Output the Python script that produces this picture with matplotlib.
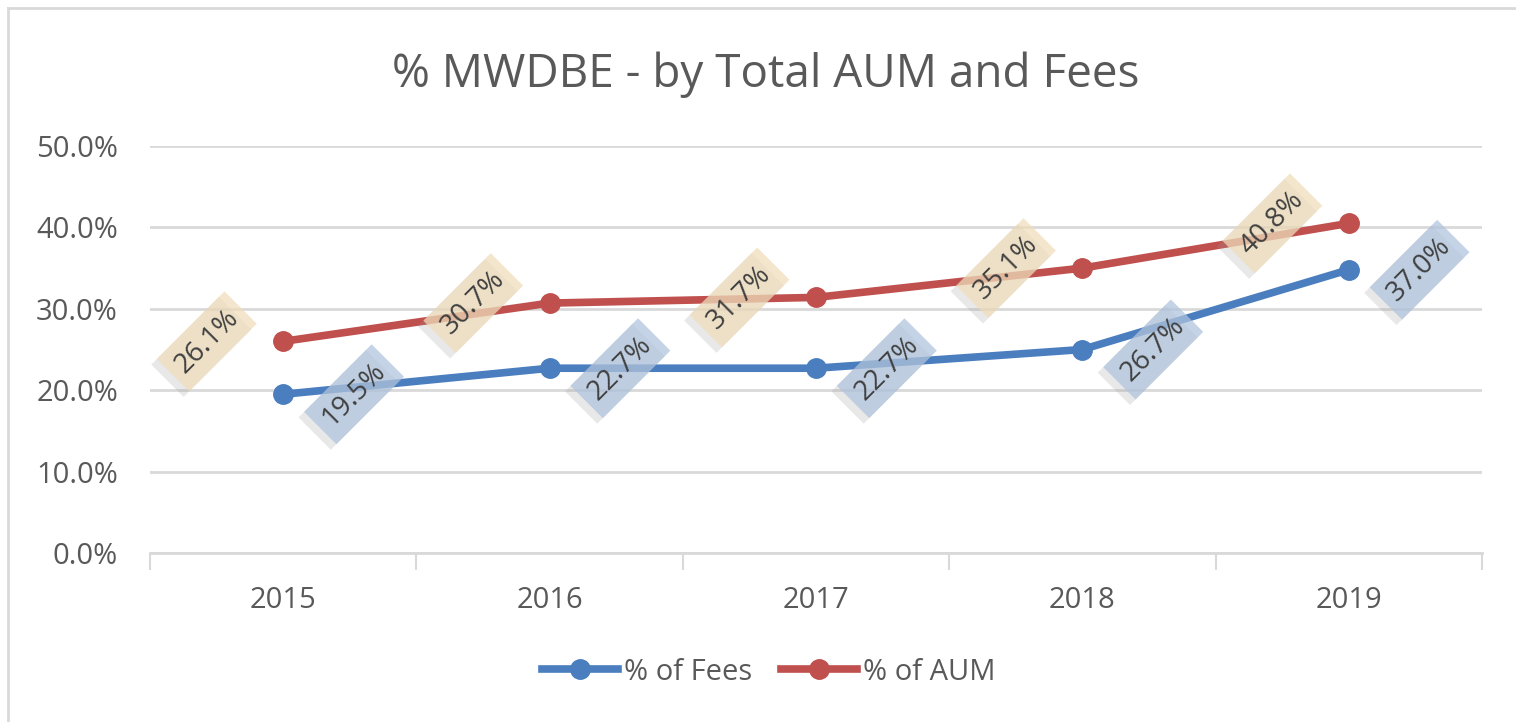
import matplotlib
matplotlib.use("Agg")
import matplotlib.pyplot as plt
from matplotlib.lines import Line2D
import matplotlib.patheffects as pe

years = ["2015", "2016", "2017", "2018", "2019"]
fees = [19.5, 22.7, 22.7, 25.0, 34.8]
aum = [26.0, 30.7, 31.4, 35.0, 40.5]
fees_labels = ["19.5%", "22.7%", "22.7%", "26.7%", "37.0%"]
aum_labels = ["26.1%", "30.7%", "31.7%", "35.1%", "40.8%"]
yticks = [0, 10, 20, 30, 40, 50]
ytick_labels = ["0.0%", "10.0%", "20.0%", "30.0%", "40.0%", "50.0%"]

BLUE = "#4A7EBF"
RED = "#C0504D"
TXT = "#595959"
GRID = "#D9D9D9"
FONT = "Open Sans"

plt.rcParams["font.family"] = [FONT, "DejaVu Sans"]

fig = plt.figure(figsize=(15.16, 7.22), dpi=100)
ax = fig.add_axes([150 / 1516, 1 - 553 / 722, (1482 - 150) / 1516, (553 - 146) / 722])

x = list(range(len(years)))
ax.plot(x, fees, color=BLUE, lw=5.5, marker="o", ms=14, solid_capstyle="round", zorder=3)
ax.plot(x, aum, color=RED, lw=5.5, marker="o", ms=14, solid_capstyle="round", zorder=3)

ax.set_xlim(-0.5, len(years) - 0.5)
ax.set_ylim(0, 50)
ax.set_yticks(yticks)
ax.set_yticklabels(ytick_labels)
ax.set_xticks(x)
ax.set_xticklabels(years)
ax.set_xticks([i - 0.5 for i in range(len(years) + 1)], minor=True)
ax.tick_params(axis="x", which="major", length=0, pad=24, labelsize=21, labelcolor=TXT)
ax.tick_params(axis="x", which="minor", length=12, width=1.5, color=GRID)
ax.tick_params(axis="y", length=0, pad=23, labelsize=21, labelcolor=TXT)
ax.grid(axis="y", color=GRID, lw=2)
ax.set_axisbelow(True)
for s in ["top", "right", "left"]:
    ax.spines[s].set_visible(False)
ax.spines["bottom"].set_color(GRID)
ax.spines["bottom"].set_linewidth(2)

shadow = [pe.SimplePatchShadow(offset=(-4, -4), shadow_rgbFace="#9A9A9A", alpha=0.22), pe.Normal()]

def put_labels(vals, labels, dx, face):
    for i, (v, t) in enumerate(zip(vals, labels)):
        txt = ax.annotate(t, (i, v), xytext=(dx, 0), textcoords="offset points",
                          ha="center", va="center", rotation=45, rotation_mode="anchor",
                          fontsize=20, color="#404040", zorder=5,
                          bbox=dict(boxstyle="square,pad=0.32", fc=face, ec="none", alpha=0.72))
        txt.get_bbox_patch().set_path_effects(shadow)

put_labels(fees, fees_labels, 51, "#AFC3DE")
put_labels(aum, aum_labels, -55, "#F0DDB9")

fig.text(0.505, 0.896, "% MWDBE - by Total AUM and Fees", ha="center", va="center",
         fontsize=33, color=TXT)

handles = [Line2D([], [], color=BLUE, lw=5.5, marker="o", ms=14),
           Line2D([], [], color=RED, lw=5.5, marker="o", ms=14)]
fig.legend(handles, ["% of Fees", "% of AUM"], loc="center", bbox_to_anchor=(0.507, 0.069),
           ncol=2, frameon=False, fontsize=21, labelcolor=TXT, handlelength=2.6,
           handletextpad=0.2, columnspacing=1.0)

fig.add_artist(Line2D([8 / 1516, 8 / 1516], [0, 1 - 8 / 722], transform=fig.transFigure, color=GRID, lw=2))
fig.add_artist(Line2D([8 / 1516, 1], [1 - 8 / 722, 1 - 8 / 722], transform=fig.transFigure, color=GRID, lw=2))

fig.savefig("out.png", dpi=100)
